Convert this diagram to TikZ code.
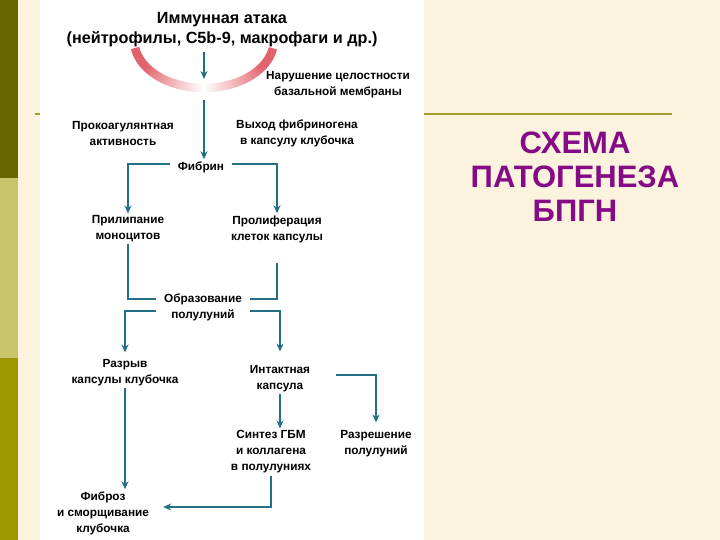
\documentclass[tikz,border=0pt]{standalone}
\usepackage{fontspec}
\setmainfont{Liberation Sans}
\usetikzlibrary{arrows.meta}
\definecolor{bg}{HTML}{FCF3DF}
\definecolor{olivedark}{HTML}{686600}
\definecolor{olivelight}{HTML}{C9C46A}
\definecolor{olivemid}{HTML}{9C9700}
\definecolor{linecol}{HTML}{A29A2E}
\definecolor{tealc}{HTML}{236F86}
\definecolor{arcred}{HTML}{E2626C}
\definecolor{purp}{HTML}{850A85}
\begin{document}
\begin{tikzpicture}[x=1pt,y=-1pt,
  lbl/.style={font=\bfseries\fontsize{11.8}{16}\selectfont, align=center, inner sep=2pt},
  ln/.style={draw=tealc, line width=1.8pt},
  arr/.style={ln, -{Stealth[length=8pt,width=7pt]}},
]
\useasboundingbox (0,0) rectangle (720,540);
\fill[bg] (0,0) rectangle (720,540);
\fill[olivedark] (0,0) rectangle (18,178);
\fill[olivelight] (0,178) rectangle (18,358);
\fill[olivemid] (0,358) rectangle (18,540);
\draw[linecol, line width=2pt] (35,114) -- (672,114);
\fill[white] (40,0) rectangle (424,540);
% arc
\foreach \a in {10,12,...,168}{
  \pgfmathsetmacro\p{min(100,abs(\a+1-90)*1.8)}
  \draw[color=arcred!\p!white, line width=8.5pt]
    ({204+70*cos(\a)},{40+48*sin(\a)}) -- ({204+70*cos(\a+2.4)},{40+48*sin(\a+2.4)});
}
% title
\node[font=\bfseries\fontsize{16.2}{20}\selectfont, align=center, inner sep=0pt] (att) at (222,30)
  {Иммунная атака\\(нейтрофилы, C5b-9, макрофаги и др.)};
\node[font=\bfseries\fontsize{31}{34}\selectfont, text=purp, align=center] (title) at (575,177)
  {СХЕМА\\ПАТОГЕНЕЗА\\БПГН};
% labels
\node[lbl] (nar) at (338,85) {Нарушение целостности\\базальной мембраны};
\node[lbl] (prok) at (123,133) {Прокоагулянтная\\активность};
\node[lbl] (vyh) at (297,133) {Выход фибриногена\\в капсулу клубочка};
\node[lbl] (fib) at (201,167) {Фибрин};
\node[lbl] (prl) at (128,229) {Прилипание\\моноцитов};
\node[lbl] (prol) at (277,229) {Пролиферация\\клеток капсулы};
\node[lbl] (obr) at (203,307) {Образование\\полулуний};
\node[lbl] (razr) at (125,373) {Разрыв\\капсулы клубочка};
\node[lbl] (int) at (280,379) {Интактная\\капсула};
\node[lbl] (razresh) at (376,444) {Разрешение\\полулуний};
\node[lbl] (sint) at (271,452) {Синтез ГБМ\\и коллагена\\в полулуниях};
\node[lbl] (fibroz) at (103,513) {Фиброз\\и сморщивание\\клубочка};
% connectors
\coordinate (arcin) at (204,52);
\coordinate (arcout) at (204,79);
\draw[arr] (arcin) -- (arcout);
\coordinate (nartop) at (204,100);
\draw[arr] (nartop) -- (nartop |- fib.north);
\draw[arr] ([shift={(-6pt,3pt)}]fib.west) -| (prl.north);
\draw[arr] ([shift={(6pt,3pt)}]fib.east) -| (prol.north);
\draw[ln] (prl.south) |- ([shift={(-6pt,8pt)}]obr.west);
\draw[ln] ([yshift=-18pt]prol.south) |- ([shift={(6pt,8pt)}]obr.east);
\draw[arr] ([shift={(-6pt,-4pt)}]obr.west) -| ([yshift=5pt]razr.north);
\draw[arr] ([shift={(6pt,-4pt)}]obr.east) -| ([yshift=12pt]int.north);
\draw[arr] ([shift={(24pt,4pt)}]int.east) -| ([yshift=6pt]razresh.north);
\draw[arr] (int.south) -- (int.south |- sint.north);
\draw[arr] (sint.south) |- ([shift={(12pt,6pt)}]fibroz.east);
\draw[arr] (razr.south) -- (razr.south |- fibroz.north);
\end{tikzpicture}
\end{document}
